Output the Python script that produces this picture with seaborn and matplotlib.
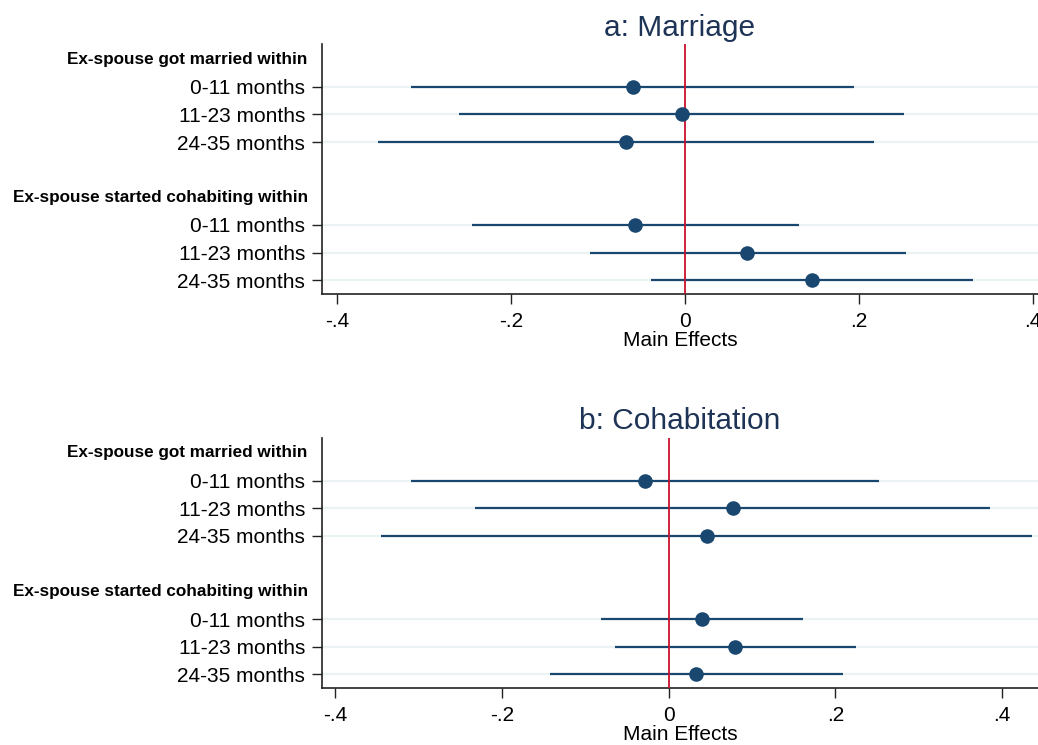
import numpy as np
import pandas as pd
import matplotlib
matplotlib.use("Agg")
import matplotlib.pyplot as plt
import seaborn as sns
from matplotlib import font_manager

sns.set_style("white")
plt.rcParams['font.family'] = ['Liberation Sans', 'DejaVu Sans']
plt.rcParams['text.color'] = 'black'
plt.rcParams['xtick.color'] = 'black'
plt.rcParams['ytick.color'] = 'black'
plt.rcParams['axes.labelcolor'] = 'black'

# ---- data ----
headings = ["Ex-spouse got married within", "Ex-spouse started cohabiting within"]
periods = ["0-11 months", "11-23 months", "24-35 months"]
titles = ["a: Marriage", "b: Cohabitation"]

a_est = [-0.060, -0.003, -0.067, -0.057, 0.072, 0.146]
a_lo = [-0.315, -0.259, -0.353, -0.245, -0.109, -0.039]
a_hi = [0.194, 0.252, 0.218, 0.131, 0.254, 0.331]

b_est = [-0.028, 0.077, 0.046, 0.040, 0.080, 0.033]
b_lo = [-0.309, -0.232, -0.345, -0.081, -0.065, -0.143]
b_hi = [0.252, 0.386, 0.436, 0.161, 0.225, 0.209]

xticks = [-0.4, -0.2, 0, 0.2, 0.4]
xtick_labels = ["-.4", "-.2", "0", ".2", ".4"]

navy = "#1a476f"
red = "#c8102e"
grid_c = "#eaf2f3"
title_c = "#1e3456"

names = ["Liberation Sans Narrow", "Arial Narrow"]
avail = {f.name for f in font_manager.fontManager.ttflist}
head_family = [n for n in names if n in avail] + ['Liberation Sans']
head_narrow = head_family[0] != 'Liberation Sans'

fig = plt.figure(figsize=(10.38, 7.45), dpi=100)
axes_pos = [[0.3102, 0.6054, 0.6898, 0.3355], [0.3102, 0.0761, 0.6898, 0.3364]]
xlims = [(-0.417, 0.406), (-0.416, 0.443)]

row_pos = [1, 2, 3, 6, 7, 8]
head_pos = [0, 5]

for k, (est, lo, hi) in enumerate([(a_est, a_lo, a_hi), (b_est, b_lo, b_hi)]):
    ax = fig.add_axes(axes_pos[k])
    df = pd.DataFrame({"pos": row_pos, "est": est, "lo": lo, "hi": hi})
    ax.set_xlim(*xlims[k])
    ax.set_ylim(8.5, -0.55)
    for p in row_pos:
        ax.axhline(p, color=grid_c, lw=1.6, zorder=0)
    ax.hlines(df["pos"], df["lo"], df["hi"], color=navy, lw=1.6, zorder=2)
    ax.axvline(0, color=red, lw=1.3, zorder=3)
    sns.scatterplot(data=df, x="est", y="pos", ax=ax, color=navy, s=110,
                    edgecolor=navy, linewidth=0, zorder=4, legend=False)
    ax.set_yticks(row_pos)
    ax.set_yticklabels(periods * 2, fontsize=15)
    for hp, h in zip(head_pos, headings):
        ax.text(-0.02, hp, h, transform=ax.get_yaxis_transform(), ha="right", va="center",
                fontsize=14 if head_narrow else 12.3, fontweight="bold", family=head_family,
                color="black")
    ax.set_xticks(xticks)
    ax.set_xticklabels(xtick_labels, fontsize=15)
    ax.set_xlabel("Main Effects", fontsize=15, labelpad=0)
    ax.set_ylabel("")
    ax.tick_params(axis="y", length=7, width=1, color="#222222", pad=5, left=True)
    ax.tick_params(axis="x", length=7, width=1, color="#222222", pad=6, bottom=True)
    for s in ["top", "right"]:
        ax.spines[s].set_visible(False)
    for s in ["left", "bottom"]:
        ax.spines[s].set_color("#222222")
        ax.spines[s].set_linewidth(1.2)
    ax.set_title(titles[k], fontsize=21.5, color=title_c, pad=6)

fig.savefig("out.png", dpi=100)
